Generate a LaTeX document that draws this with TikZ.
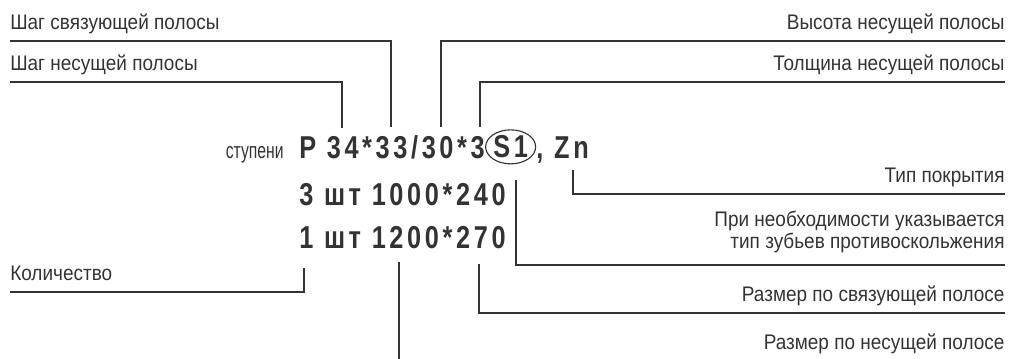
\documentclass[tikz,border=0pt]{standalone}
\usepackage{fontspec}
\setmainfont{Liberation Sans}[FakeStretch=0.9]
\newfontfamily\codefont[FakeStretch=0.8, LetterSpace=11.5]{Liberation Sans}
\newfontfamily\smallfont[FakeStretch=0.7]{Liberation Sans}
\usetikzlibrary{positioning, shapes.geometric}
\definecolor{inkgrey}{rgb}{0.2, 0.2, 0.2}
\tikzset{lead/.style={draw=inkgrey, line width=0.8pt}}
\tikzset{lbl/.style={text=inkgrey, font=\fontsize{15}{15.5}\selectfont, inner xsep=0pt, inner ysep=5pt, text depth=3.2pt}}
\tikzset{code/.style={text=inkgrey, font=\codefont\bfseries\fontsize{22.5}{26}\selectfont, inner sep=0pt}}
\tikzset{ring/.style={ellipse, draw=inkgrey, line width=0.8pt, inner sep=0pt, minimum width=1.25cm, minimum height=0.85cm}}

\begin{document}
\begin{tikzpicture}
\useasboundingbox (0,0) rectangle (25.25,-8.975);

% the order code
\node[code, anchor=base west] (c1) at (7.475,-3.95) {P 34*33/30*3};
\node[ring, right=0pt of c1, code] (s1) {S1};
\node[code, anchor=base west] (zn) at (s1.east |- c1.base) {, Zn};
\node[text=inkgrey, font=\smallfont\fontsize{16}{18}\selectfont, inner sep=0pt, anchor=base east] (st) at (7.1,-3.95) {ступени};
\node[code, anchor=base west] (c2) at (7.475,-5.125) {3 шт 1000*240};
\node[code, anchor=base west] (c3) at (7.475,-6.2) {1 шт 1200*270};

% ends of the leaders
\coordinate (t1) at (9.775,-3.175);
\coordinate (t2) at (8.55,-3.2);
\coordinate (t3) at (11.025,-3.175);
\coordinate (t4) at (12.0,-3.175);
\coordinate (t5) at (14.325,-4.25);
\coordinate (t6) at (12.9,-4.5);
\coordinate (t7) at (7.6,-6.7);
\coordinate (t8) at (11.975,-6.6);
\coordinate (t9) at (9.975,-6.55);

% underlines
\coordinate (u1) at (0.25,-1.025);
\coordinate (u2) at (0.25,-2.05);
\coordinate (u3) at (25.12,-1.025);
\coordinate (u4) at (25.12,-2.05);
\coordinate (u5) at (25.12,-4.85);
\coordinate (u6) at (25.12,-6.625);
\coordinate (u7) at (0.25,-7.3);
\coordinate (u8) at (25.12,-7.825);
\coordinate (u9) at (25.12,-9.04);

\node[lbl, above right=0pt of u1] (l1) {Шаг связующей полосы};
\node[lbl, above right=0pt of u2] (l2) {Шаг несущей полосы};
\node[lbl, above left=0pt of u3] (l3) {Высота несущей полосы};
\node[lbl, above left=0pt of u4] (l4) {Толщина несущей полосы};
\node[lbl, above left=0pt of u5] (l5) {Тип покрытия};
\node[lbl, above left=0pt of u6, align=right, inner ysep=8.5pt] (l6) {При необходимости указывается\\тип зубьев противоскольжения};
\node[lbl, above right=0pt of u7] (l7) {Количество};
\node[lbl, above left=0pt of u8] (l8) {Размер по связующей полосе};
\node[lbl, above left=0pt of u9] (l9) {Размер по несущей полосе};

\draw[lead] (l1.south west) -| (t1);
\draw[lead] (l2.south west) -| (t2);
\draw[lead] (l3.south east) -| (t3);
\draw[lead] (l4.south east) -| (t4);
\draw[lead] (l5.south east) -| (t5);
\draw[lead] (l6.south east) -| (t6);
\draw[lead] (l7.south west) -| (t7);
\draw[lead] (l8.south east) -| (t8);
\draw[lead] (l9.south east) -| (t9);

\end{tikzpicture}
\end{document}
